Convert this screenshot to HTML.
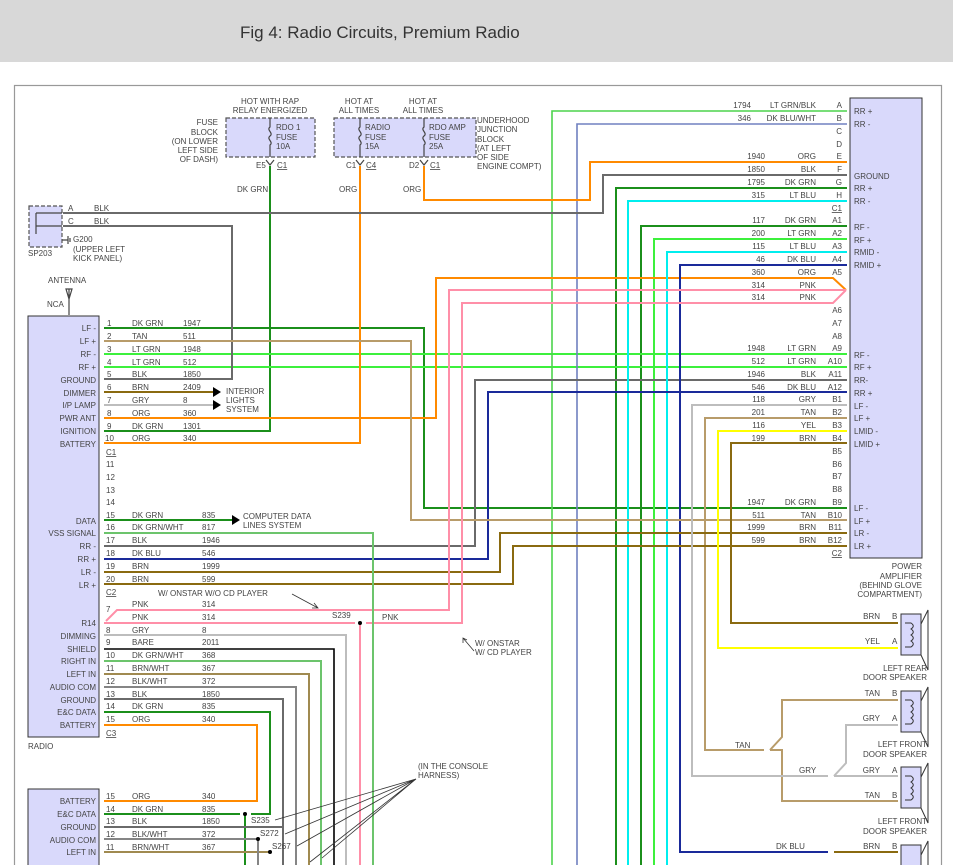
<!DOCTYPE html>
<html><head><meta charset="utf-8"><style>
html,body{margin:0;padding:0;background:#fff;}
svg{display:block;font-family:"Liberation Sans",sans-serif;}
text{font-size:8px;fill:#444;}
.r{text-anchor:end;}
.m{text-anchor:middle;}
polyline,line{fill:none;stroke-width:2;}
</style></head><body>
<svg width="953" height="865" viewBox="0 0 953 865" xmlns="http://www.w3.org/2000/svg">
<rect x="0" y="0" width="953" height="62" fill="#d8d8d8"/>
<text x="240" y="38" style="font-size:17px;fill:#333">Fig 4: Radio Circuits, Premium Radio</text>
<rect x="14.5" y="85.5" width="927" height="800" fill="none" stroke="#999" stroke-width="1.2"/>

<!-- boxes -->
<rect x="28" y="316" width="71" height="421" fill="#d9d9fb" stroke="#333" stroke-width="1"/>
<rect x="28" y="789" width="71" height="90" fill="#d9d9fb" stroke="#333" stroke-width="1"/>
<rect x="850" y="98" width="72" height="460" fill="#d9d9fb" stroke="#333" stroke-width="1"/>
<rect x="226" y="118" width="89" height="39" fill="#d9d9fb" stroke="#555" stroke-width="1.2" stroke-dasharray="4,2"/>
<rect x="334" y="118" width="142" height="39" fill="#d9d9fb" stroke="#555" stroke-width="1.2" stroke-dasharray="4,2"/>
<rect x="29" y="206" width="33" height="41" fill="#d9d9fb" stroke="#555" stroke-width="1.2" stroke-dasharray="4,2"/>

<!-- fuses -->
<g stroke="#444" stroke-width="1.2" fill="none">
<path d="M270 118 v9 c-4 3 4 6 0 9 c-4 3 4 6 0 9 v12"/>
<path d="M360 118 v9 c-4 3 4 6 0 9 c-4 3 4 6 0 9 v12"/>
<path d="M424 118 v9 c-4 3 4 6 0 9 c-4 3 4 6 0 9 v12"/>
<path d="M266 160 l4 5 l4 -5 M356 160 l4 5 l4 -5 M420 160 l4 5 l4 -5"/>
<path d="M36 213 h26 M36 213 v13 h26 M36 226 v8 M62 240 h6 M68 236 v8 M70 238 v4"/>
<path d="M66 289 l6 0 l-3 10 z M69 289 v26"/>
</g>
<text x="270" y="104" class="m">HOT WITH RAP</text><text x="270" y="113" class="m">RELAY ENERGIZED</text>
<text x="359" y="104" class="m">HOT AT</text><text x="359" y="113" class="m">ALL TIMES</text>
<text x="423" y="104" class="m">HOT AT</text><text x="423" y="113" class="m">ALL TIMES</text>
<text x="218" y="125" class="r">FUSE</text><text x="218" y="135" class="r">BLOCK</text><text x="218" y="144" class="r">(ON LOWER</text><text x="218" y="153" class="r">LEFT SIDE</text><text x="218" y="162" class="r">OF DASH)</text>
<text x="276" y="130">RDO 1</text><text x="276" y="140">FUSE</text><text x="276" y="149">10A</text>
<text x="365" y="130">RADIO</text><text x="365" y="140">FUSE</text><text x="365" y="149">15A</text>
<text x="429" y="130">RDO AMP</text><text x="429" y="140">FUSE</text><text x="429" y="149">25A</text>
<text x="477" y="123">UNDERHOOD</text><text x="477" y="132">JUNCTION</text><text x="477" y="142">BLOCK</text><text x="477" y="151">(AT LEFT</text><text x="477" y="160">OF SIDE</text><text x="477" y="169">ENGINE COMPT)</text>
<text x="256" y="168">E5</text><text x="277" y="168" text-decoration="underline">C1</text>
<text x="346" y="168">C1</text><text x="366" y="168" text-decoration="underline">C4</text>
<text x="409" y="168">D2</text><text x="430" y="168" text-decoration="underline">C1</text>
<text x="237" y="192">DK GRN</text><text x="339" y="192">ORG</text><text x="403" y="192">ORG</text>
<text x="68" y="211">A</text><text x="94" y="211">BLK</text><text x="68" y="224">C</text><text x="94" y="224">BLK</text>
<text x="73" y="242">G200</text><text x="73" y="252">(UPPER LEFT</text><text x="73" y="261">KICK PANEL)</text>
<text x="28" y="256">SP203</text>
<text x="48" y="283">ANTENNA</text><text x="47" y="307">NCA</text>

<!-- wires -->
<g stroke="#1b8f1b">
<polyline points="104,328 424,328 424,508 847,508"/>
<polyline points="104,431 270,431 270,166"/>
<polyline points="104,520 232,520"/>
<polyline points="847,188 616,188 616,865"/>
<polyline points="847,226 641,226 641,865"/>
<polyline points="104,712 270,712 270,814 251,814"/>
<polyline points="104,814 240,814"/>
<polyline points="245,814 245,865"/>
</g>
<g stroke="#3cf03c">
<polyline points="104,354 847,354"/><polyline points="104,367 847,367"/>
<polyline points="847,239 654,239 654,865"/>
</g>
<polyline points="847,111 552,111 552,865" stroke="#4cd44c" style="stroke-width:1.6"/>
<polyline points="847,124 577,124 577,865" stroke="#7080c0" style="stroke-width:1.6"/>
<g stroke="#ff8a00">
<polyline points="104,418 436,418 436,278 833,278 846,290"/>
<polyline points="104,443 360,443 360,166"/>
<polyline points="424,166 424,200 590,200 590,162 847,162"/>
<polyline points="104,725 257,725 257,801 104,801"/>
</g>
<g stroke="#6a6a6a">
<polyline points="63,213 603,213 603,175 847,175"/>
<polyline points="63,226 232,226 232,379 104,379"/>
<polyline points="104,546 475,546 475,380 847,380"/>
<polyline points="104,699 283,699 283,865"/>
<polyline points="104,827 283,827"/>
</g>
<g stroke="#00eeee">
<polyline points="847,201 628,201 628,865"/><polyline points="847,252 667,252 667,865"/>
</g>
<g stroke="#1a2a9a">
<polyline points="847,265 680,265 680,852 828,852"/>
<polyline points="104,559 488,559 488,392 847,392"/>
</g>
<g stroke="#b89c6a">
<polyline points="104,341 411,341 411,520 847,520"/>
<polyline points="847,418 705,418 705,750 764,750"/>
<polyline points="770,750 782,737 782,700 898,700"/>
<polyline points="770,750 782,750 782,801 898,801"/>
</g>
<g stroke="#8a6a10">
<polyline points="104,572 500,572 500,533 847,533"/>
<polyline points="104,584 513,584 513,546 847,546"/>
<polyline points="847,443 731,443 731,623 898,623"/>
<polyline points="104,392 213,392"/>
<polyline points="834,852 898,852"/>
</g>
<g stroke="#bdbdbd">
<polyline points="104,405 213,405"/>
<polyline points="847,405 692,405 692,776 828,776"/>
<polyline points="834,776 846,763 846,725 898,725"/>
<polyline points="834,776 898,776"/>
<polyline points="104,635 346,635 346,865"/>
</g>
<polyline points="847,431 718,431 718,648 898,648" stroke="#ffff00"/>
<g stroke="#ff8fa8">
<polyline points="104,623 355,623"/>
<polyline points="366,623 462,623 462,303 833,303 846,290"/>
<polyline points="106,621 117,610 449,610 449,290 833,290 846,290"/>
<polyline points="360,623 360,865"/>
</g>
<g stroke="#6cc46c">
<polyline points="104,533 373,533 373,865"/>
<polyline points="104,661 321,661 321,865"/>
</g>
<polyline points="104,649 334,649 334,865" stroke="#000" style="stroke-width:1.6"/>
<g stroke="#a08a50"><polyline points="104,674 309,674 309,865"/><polyline points="104,852 270,852"/></g>
<g stroke="#858585"><polyline points="104,687 296,687 296,865"/><polyline points="104,839 258,839 258,865"/></g>

<!-- arrows & dots -->
<g fill="#000">
<polygon points="232,515 240,520 232,525"/>
<polygon points="213,387 221,392 213,397"/>
<polygon points="213,400 221,405 213,410"/>
<circle cx="360" cy="623" r="2"/><circle cx="245" cy="814" r="2"/><circle cx="258" cy="839" r="2"/><circle cx="270" cy="852" r="2"/>
</g>
<g stroke="#333" stroke-width="0.8" fill="none">
<path d="M292 594 L318 608 M314 603 L318 608 L312 608"/>
<path d="M474 651 L463 638 M463 643 L463 638 L467 640"/>
<path d="M416 779 L275 820 M416 779 L285 834 M416 779 L297 846 M416 779 L322 858 M416 779 L310 862"/>
</g>
<text x="243" y="519">COMPUTER DATA</text><text x="243" y="528">LINES SYSTEM</text>
<text x="226" y="394">INTERIOR</text><text x="226" y="403">LIGHTS</text><text x="226" y="412">SYSTEM</text>
<text x="158" y="596">W/ ONSTAR W/O CD PLAYER</text>
<text x="332" y="618">S239</text><text x="382" y="620">PNK</text>
<text x="475" y="646">W/ ONSTAR</text><text x="475" y="655">W/ CD PLAYER</text>
<text x="418" y="769">(IN THE CONSOLE</text><text x="418" y="778">HARNESS)</text>
<text x="251" y="823">S235</text><text x="260" y="836">S272</text><text x="272" y="849">S267</text>

<!-- radio labels -->
<g>
<text x="96" y="331" class="r">LF -</text><text x="96" y="344" class="r">LF +</text><text x="96" y="357" class="r">RF -</text><text x="96" y="370" class="r">RF +</text><text x="96" y="383" class="r">GROUND</text><text x="96" y="396" class="r">DIMMER</text><text x="96" y="408" class="r">I/P LAMP</text><text x="96" y="421" class="r">PWR ANT</text><text x="96" y="434" class="r">IGNITION</text><text x="96" y="447" class="r">BATTERY</text>
<text x="96" y="524" class="r">DATA</text><text x="96" y="536" class="r">VSS SIGNAL</text><text x="96" y="549" class="r">RR -</text><text x="96" y="562" class="r">RR +</text><text x="96" y="575" class="r">LR -</text><text x="96" y="588" class="r">LR +</text>
<text x="96" y="626" class="r">R14</text><text x="96" y="639" class="r">DIMMING</text><text x="96" y="652" class="r">SHIELD</text><text x="96" y="664" class="r">RIGHT IN</text><text x="96" y="677" class="r">LEFT IN</text><text x="96" y="690" class="r">AUDIO COM</text><text x="96" y="703" class="r">GROUND</text><text x="96" y="715" class="r">E&amp;C DATA</text><text x="96" y="728" class="r">BATTERY</text>
<text x="28" y="749">RADIO</text>
<text x="96" y="804" class="r">BATTERY</text><text x="96" y="817" class="r">E&amp;C DATA</text><text x="96" y="830" class="r">GROUND</text><text x="96" y="843" class="r">AUDIO COM</text><text x="96" y="855" class="r">LEFT IN</text>
</g>
<g>
<text x="107" y="326">1</text><text x="132" y="326">DK GRN</text><text x="183" y="326">1947</text>
<text x="107" y="339">2</text><text x="132" y="339">TAN</text><text x="183" y="339">511</text>
<text x="107" y="352">3</text><text x="132" y="352">LT GRN</text><text x="183" y="352">1948</text>
<text x="107" y="365">4</text><text x="132" y="365">LT GRN</text><text x="183" y="365">512</text>
<text x="107" y="377">5</text><text x="132" y="377">BLK</text><text x="183" y="377">1850</text>
<text x="107" y="390">6</text><text x="132" y="390">BRN</text><text x="183" y="390">2409</text>
<text x="107" y="403">7</text><text x="132" y="403">GRY</text><text x="183" y="403">8</text>
<text x="107" y="416">8</text><text x="132" y="416">ORG</text><text x="183" y="416">360</text>
<text x="107" y="429">9</text><text x="132" y="429">DK GRN</text><text x="183" y="429">1301</text>
<text x="105" y="441">10</text><text x="132" y="441">ORG</text><text x="183" y="441">340</text>
<text x="106" y="455" text-decoration="underline">C1</text>
<text x="106" y="467">11</text><text x="106" y="480">12</text><text x="106" y="493">13</text><text x="106" y="505">14</text>
<text x="106" y="518">15</text><text x="132" y="518">DK GRN</text><text x="202" y="518">835</text>
<text x="106" y="530">16</text><text x="132" y="530">DK GRN/WHT</text><text x="202" y="530">817</text>
<text x="106" y="543">17</text><text x="132" y="543">BLK</text><text x="202" y="543">1946</text>
<text x="106" y="556">18</text><text x="132" y="556">DK BLU</text><text x="202" y="556">546</text>
<text x="106" y="569">19</text><text x="132" y="569">BRN</text><text x="202" y="569">1999</text>
<text x="106" y="582">20</text><text x="132" y="582">BRN</text><text x="202" y="582">599</text>
<text x="106" y="595" text-decoration="underline">C2</text>
<text x="106" y="612">7</text><text x="132" y="607">PNK</text><text x="202" y="607">314</text>
<text x="132" y="620">PNK</text><text x="202" y="620">314</text>
<text x="106" y="633">8</text><text x="132" y="633">GRY</text><text x="202" y="633">8</text>
<text x="106" y="645">9</text><text x="132" y="645">BARE</text><text x="202" y="645">2011</text>
<text x="106" y="658">10</text><text x="132" y="658">DK GRN/WHT</text><text x="202" y="658">368</text>
<text x="106" y="671">11</text><text x="132" y="671">BRN/WHT</text><text x="202" y="671">367</text>
<text x="106" y="684">12</text><text x="132" y="684">BLK/WHT</text><text x="202" y="684">372</text>
<text x="106" y="697">13</text><text x="132" y="697">BLK</text><text x="202" y="697">1850</text>
<text x="106" y="709">14</text><text x="132" y="709">DK GRN</text><text x="202" y="709">835</text>
<text x="106" y="722">15</text><text x="132" y="722">ORG</text><text x="202" y="722">340</text>
<text x="106" y="736" text-decoration="underline">C3</text>
<text x="106" y="799">15</text><text x="132" y="799">ORG</text><text x="202" y="799">340</text>
<text x="106" y="812">14</text><text x="132" y="812">DK GRN</text><text x="202" y="812">835</text>
<text x="106" y="824">13</text><text x="132" y="824">BLK</text><text x="202" y="824">1850</text>
<text x="106" y="837">12</text><text x="132" y="837">BLK/WHT</text><text x="202" y="837">372</text>
<text x="106" y="850">11</text><text x="132" y="850">BRN/WHT</text><text x="202" y="850">367</text>
</g>

<!-- amp wire labels -->
<g>
<text x="751" y="108" class="r">1794</text><text x="816" y="108" class="r">LT GRN/BLK</text><text x="842" y="108" class="r">A</text>
<text x="751" y="121" class="r">346</text><text x="816" y="121" class="r">DK BLU/WHT</text><text x="842" y="121" class="r">B</text>
<text x="842" y="134" class="r">C</text><text x="842" y="147" class="r">D</text>
<text x="765" y="159" class="r">1940</text><text x="816" y="159" class="r">ORG</text><text x="842" y="159" class="r">E</text>
<text x="765" y="172" class="r">1850</text><text x="816" y="172" class="r">BLK</text><text x="842" y="172" class="r">F</text>
<text x="765" y="185" class="r">1795</text><text x="816" y="185" class="r">DK GRN</text><text x="842" y="185" class="r">G</text>
<text x="765" y="198" class="r">315</text><text x="816" y="198" class="r">LT BLU</text><text x="842" y="198" class="r">H</text>
<text x="842" y="211" class="r" text-decoration="underline">C1</text>
<text x="765" y="223" class="r">117</text><text x="816" y="223" class="r">DK GRN</text><text x="842" y="223" class="r">A1</text>
<text x="765" y="236" class="r">200</text><text x="816" y="236" class="r">LT GRN</text><text x="842" y="236" class="r">A2</text>
<text x="765" y="249" class="r">115</text><text x="816" y="249" class="r">LT BLU</text><text x="842" y="249" class="r">A3</text>
<text x="765" y="262" class="r">46</text><text x="816" y="262" class="r">DK BLU</text><text x="842" y="262" class="r">A4</text>
<text x="765" y="275" class="r">360</text><text x="816" y="275" class="r">ORG</text><text x="842" y="275" class="r">A5</text>
<text x="765" y="288" class="r">314</text><text x="816" y="288" class="r">PNK</text>
<text x="765" y="300" class="r">314</text><text x="816" y="300" class="r">PNK</text>
<text x="842" y="313" class="r">A6</text><text x="842" y="326" class="r">A7</text><text x="842" y="339" class="r">A8</text>
<text x="765" y="351" class="r">1948</text><text x="816" y="351" class="r">LT GRN</text><text x="842" y="351" class="r">A9</text>
<text x="765" y="364" class="r">512</text><text x="816" y="364" class="r">LT GRN</text><text x="842" y="364" class="r">A10</text>
<text x="765" y="377" class="r">1946</text><text x="816" y="377" class="r">BLK</text><text x="842" y="377" class="r">A11</text>
<text x="765" y="390" class="r">546</text><text x="816" y="390" class="r">DK BLU</text><text x="842" y="390" class="r">A12</text>
<text x="765" y="402" class="r">118</text><text x="816" y="402" class="r">GRY</text><text x="842" y="402" class="r">B1</text>
<text x="765" y="415" class="r">201</text><text x="816" y="415" class="r">TAN</text><text x="842" y="415" class="r">B2</text>
<text x="765" y="428" class="r">116</text><text x="816" y="428" class="r">YEL</text><text x="842" y="428" class="r">B3</text>
<text x="765" y="441" class="r">199</text><text x="816" y="441" class="r">BRN</text><text x="842" y="441" class="r">B4</text>
<text x="842" y="454" class="r">B5</text><text x="842" y="467" class="r">B6</text><text x="842" y="479" class="r">B7</text><text x="842" y="492" class="r">B8</text>
<text x="765" y="505" class="r">1947</text><text x="816" y="505" class="r">DK GRN</text><text x="842" y="505" class="r">B9</text>
<text x="765" y="518" class="r">511</text><text x="816" y="518" class="r">TAN</text><text x="842" y="518" class="r">B10</text>
<text x="765" y="530" class="r">1999</text><text x="816" y="530" class="r">BRN</text><text x="842" y="530" class="r">B11</text>
<text x="765" y="543" class="r">599</text><text x="816" y="543" class="r">BRN</text><text x="842" y="543" class="r">B12</text>
<text x="842" y="556" class="r" text-decoration="underline">C2</text>
</g>
<g>
<text x="854" y="114">RR +</text><text x="854" y="127">RR -</text><text x="854" y="179">GROUND</text><text x="854" y="191">RR +</text><text x="854" y="204">RR -</text>
<text x="854" y="230">RF -</text><text x="854" y="243">RF +</text><text x="854" y="255">RMID -</text><text x="854" y="268">RMID +</text>
<text x="854" y="358">RF -</text><text x="854" y="370">RF +</text><text x="854" y="383">RR-</text><text x="854" y="396">RR +</text>
<text x="854" y="409">LF -</text><text x="854" y="421">LF +</text><text x="854" y="434">LMID -</text><text x="854" y="447">LMID +</text>
<text x="854" y="511">LF -</text><text x="854" y="524">LF +</text><text x="854" y="536">LR -</text><text x="854" y="549">LR +</text>
<text x="922" y="569" class="r">POWER</text><text x="922" y="579" class="r">AMPLIFIER</text><text x="922" y="588" class="r">(BEHIND GLOVE</text><text x="922" y="597" class="r">COMPARTMENT)</text>
</g>

<!-- speakers -->
<g fill="#d9d9fb" stroke="#333" stroke-width="1">
<rect x="901" y="614" width="20" height="41"/><rect x="901" y="691" width="20" height="41"/><rect x="901" y="767" width="20" height="41"/><rect x="901" y="845" width="20" height="30"/>
</g>
<g fill="none" stroke="#333" stroke-width="1">
<path d="M921 624 L928 610 V670 L921 655"/><path d="M921 701 L928 687 V747 L921 732"/><path d="M921 777 L928 763 V823 L921 808"/><path d="M921 855 L928 841 V875"/>
<path d="M905 623 h6 c3 2 3 4 0 6 c3 2 3 4 0 6 c3 2 3 4 0 6 c3 2 3 4 0 6 h-6"/>
<path d="M905 700 h6 c3 2 3 4 0 6 c3 2 3 4 0 6 c3 2 3 4 0 6 c3 2 3 4 0 6 h-6"/>
<path d="M905 776 h6 c3 2 3 4 0 6 c3 2 3 4 0 6 c3 2 3 4 0 6 c3 2 3 4 0 6 h-6"/>
</g>
<text x="880" y="619" class="r">BRN</text><text x="892" y="619">B</text>
<text x="880" y="644" class="r">YEL</text><text x="892" y="644">A</text>
<text x="927" y="671" class="r">LEFT REAR</text><text x="927" y="680" class="r">DOOR SPEAKER</text>
<text x="880" y="696" class="r">TAN</text><text x="892" y="696">B</text>
<text x="880" y="721" class="r">GRY</text><text x="892" y="721">A</text>
<text x="927" y="747" class="r">LEFT FRONT</text><text x="927" y="757" class="r">DOOR SPEAKER</text>
<text x="880" y="773" class="r">GRY</text><text x="892" y="773">A</text>
<text x="880" y="798" class="r">TAN</text><text x="892" y="798">B</text>
<text x="927" y="824" class="r">LEFT FRONT</text><text x="927" y="834" class="r">DOOR SPEAKER</text>
<text x="880" y="849" class="r">BRN</text><text x="892" y="849">B</text>
<text x="735" y="748">TAN</text><text x="799" y="773">GRY</text><text x="776" y="849">DK BLU</text>
</svg>
</body></html>
